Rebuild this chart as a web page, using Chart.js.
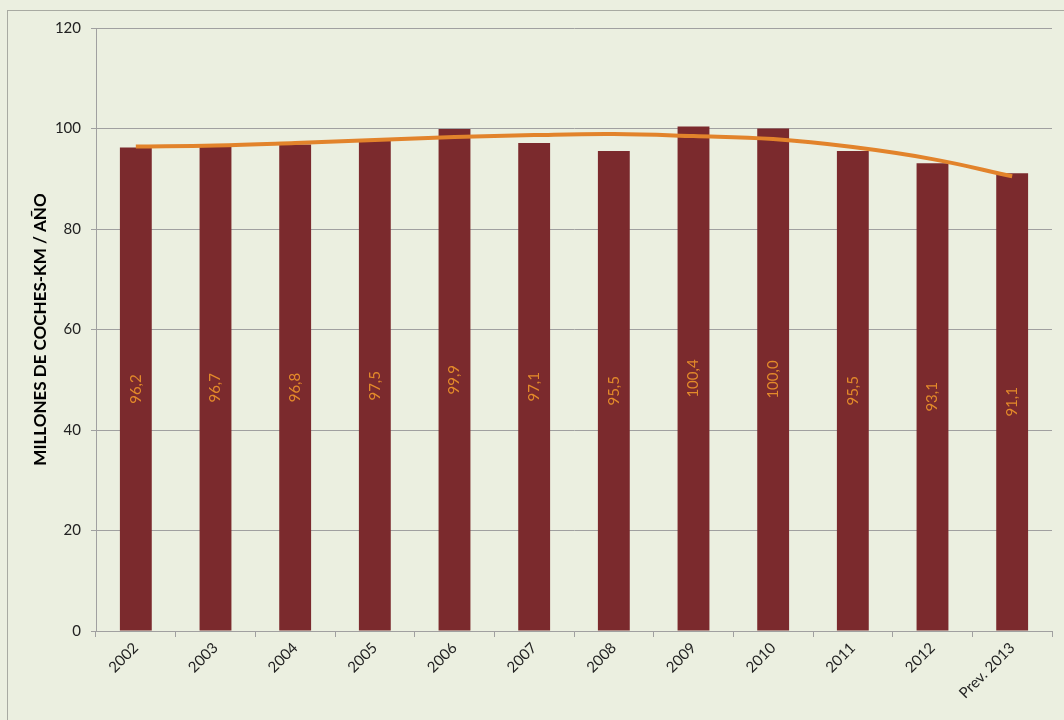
<!DOCTYPE html>
<html>
<head>
<meta charset="utf-8">
<script src="https://cdn.jsdelivr.net/npm/chart.js@4/dist/chart.umd.min.js"></script>
<style>
  html, body { margin: 0; padding: 0; background: #ebefe0; overflow: hidden; }
  #wrap { position: absolute; left: 0; top: 0; width: 1064px; height: 720px; }
  #frame { position: absolute; left: 7px; top: 10px; width: 1200px; height: 900px; border: 1px solid #a8aaa2; box-sizing: border-box; pointer-events: none; }
  canvas { position: absolute; left: 0; top: 0; }
</style>
</head>
<body>
<div id="wrap">
  <div id="frame"></div>
  <canvas id="c" width="1064" height="720"></canvas>
</div>
<script>
const categories = ['2002','2003','2004','2005','2006','2007','2008','2009','2010','2011','2012','Prev. 2013'];
const values = [96.2, 96.7, 96.8, 97.5, 99.9, 97.1, 95.5, 100.4, 100.0, 95.5, 93.1, 91.1];
const trend = [96.4, 96.6, 97.1, 97.7, 98.3, 98.7, 98.9, 98.5, 97.9, 96.3, 93.9, 90.5];
const valueLabels = ['96,2','96,7','96,8','97,5','99,9','97,1','95,5','100,4','100,0','95,5','93,1','91,1'];
const yTicks = [0, 20, 40, 60, 80, 100, 120];
const yTitle = 'MILLONES DE COCHES-KM / AÑO';

const FONT = 'Lato, "Liberation Sans", sans-serif';

const barLabels = {
  id: 'barLabels',
  afterDatasetsDraw(chart) {
    const meta = chart.getDatasetMeta(1);
    const ctx = chart.ctx;
    ctx.save();
    ctx.fillStyle = '#e38a2a';
    ctx.font = '15px ' + FONT;
    ctx.textAlign = 'center';
    ctx.textBaseline = 'middle';
    meta.data.forEach((el, i) => {
      const cx = el.x;
      const cy = (el.y + el.base) / 2;
      ctx.save();
      ctx.translate(cx, cy);
      ctx.rotate(-Math.PI / 2);
      ctx.fillText(valueLabels[i], 0, 0);
      ctx.restore();
    });
    ctx.restore();
  }
};

new Chart(document.getElementById('c'), {
  data: {
    labels: categories,
    datasets: [
      {
        type: 'line',
        data: trend,
        borderColor: '#e2832b',
        borderWidth: 4,
        pointRadius: 0,
        tension: 0.4,
        fill: false,
        order: 0
      },
      {
        type: 'bar',
        data: values,
        backgroundColor: '#7b2a2d',
        borderWidth: 0,
        barPercentage: 0.4,
        categoryPercentage: 1.0,
        order: 1
      }
    ]
  },
  options: {
    responsive: false,
    animation: false,
    devicePixelRatio: 1,
    layout: { padding: { top: 28, right: 12, left: 0, bottom: 0 } },
    plugins: { legend: { display: false }, tooltip: { enabled: false } },
    scales: {
      x: {
        grid: { drawOnChartArea: false, color: '#a0a0a0', tickLength: 6, offset: true },
        border: { color: '#a0a0a0', width: 1 },
        ticks: { color: '#222', font: { size: 15, family: FONT }, minRotation: 45, maxRotation: 45, padding: 2 },
        afterFit(scale) { scale.height = 720 - 631; }
      },
      y: {
        min: 0, max: 120,
        afterBuildTicks(scale) { scale.ticks = yTicks.map(v => ({ value: v })); },
        grid: { color: '#a0a0a0', tickLength: 5 },
        border: { color: '#a0a0a0', width: 1 },
        ticks: { color: '#222', font: { size: 15, family: FONT }, padding: 10 },
        title: { display: true, text: yTitle, color: '#000', font: { size: 17, weight: 'bold', family: FONT }, padding: { top: 30, bottom: 0 } },
        afterFit(scale) { scale.width = 96; }
      }
    }
  },
  plugins: [barLabels]
});
</script>
</body>
</html>
